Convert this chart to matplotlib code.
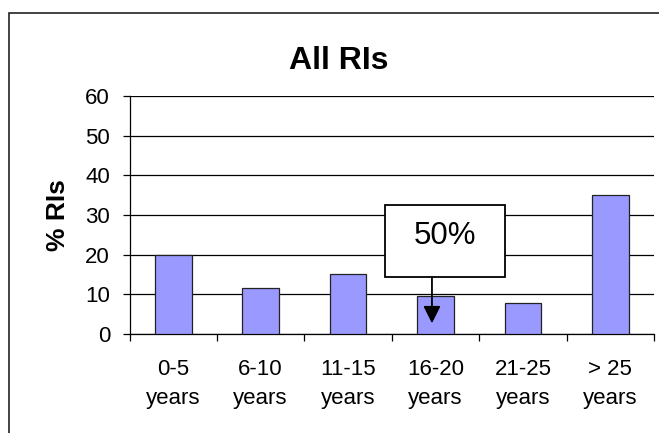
import matplotlib
matplotlib.use("Agg")
import matplotlib.pyplot as plt
from matplotlib.patches import Rectangle

plt.rcParams['font.family'] = ['Liberation Sans', 'DejaVu Sans']

categories = ["0-5\nyears", "6-10\nyears", "11-15\nyears", "16-20\nyears", "21-25\nyears", "> 25\nyears"]
values = [20.0, 11.7, 15.2, 9.7, 7.9, 35.0]
yticks = [0, 10, 20, 30, 40, 50, 60]
title = "All RIs"
ylabel = "% RIs"
note = "50%"

fig = plt.figure(figsize=(6.59, 4.33), dpi=100)
ax = fig.add_axes([129.5/659, 1 - 334/433, (654 - 129.5)/659, (334 - 96)/433])

x = list(range(len(categories)))
ax.bar(x, values, width=0.42, color='#9999FF', edgecolor='#222222', linewidth=0.9, zorder=3)

ax.set_xlim(-0.5, len(categories) - 0.5)
ax.set_ylim(0, 60)
ax.set_yticks(yticks)
ax.set_yticklabels([str(v) for v in yticks], fontsize=16)
ax.yaxis.grid(True, color='black', linewidth=0.9, zorder=0)
ax.set_axisbelow(True)

ax.set_xticks([i - 0.5 for i in range(len(categories) + 1)])
ax.set_xticklabels([])
ax.set_xticks(x, minor=True)
ax.set_xticklabels(categories, minor=True, fontsize=16, linespacing=1.48)
ax.tick_params(axis='x', which='major', direction='out', length=5, width=0.9, color='black')
ax.tick_params(axis='x', which='minor', length=0, pad=18)
ax.tick_params(axis='y', direction='out', length=5, width=0.9, pad=9)

for s in ['top', 'right']:
    ax.spines[s].set_visible(False)
for s in ['left', 'bottom']:
    ax.spines[s].set_linewidth(0.9)
    ax.spines[s].set_color('black')

ax.set_ylabel(ylabel, fontsize=19, fontweight='bold', labelpad=11)
fig.text(339/659, 1 - 61/433, title, fontsize=23, fontweight='bold', ha='center', va='center')

# callout box with arrow
box = Rectangle((2.42, 14.4), 1.38, 18.1, facecolor='white', edgecolor='black', linewidth=1.3, zorder=5)
ax.add_patch(box)
ax.text(3.11, 24.8, note, fontsize=22.5, ha='center', va='center', zorder=6)
ax.annotate('', xy=(2.96, 2.7), xytext=(2.96, 14.4),
            arrowprops=dict(arrowstyle='-|>,head_length=0.52,head_width=0.26', mutation_scale=20,
                            color='black', lw=1.3, shrinkA=0, shrinkB=0), zorder=6)

# outer chart-area border (partly cropped)
fig.add_artist(Rectangle((9/659, -0.2), 1.2, 0.2 + (1 - 12.7/433), transform=fig.transFigure,
                         facecolor='none', edgecolor='#222222', linewidth=1.2, clip_on=False))

fig.savefig("out.png", dpi=100)
